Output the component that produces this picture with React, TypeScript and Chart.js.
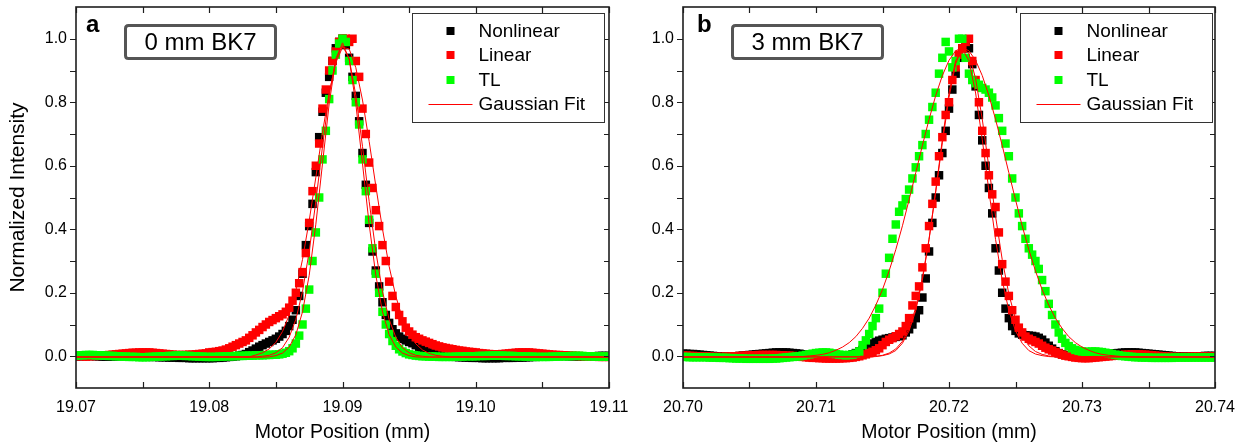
import React, { useEffect, useRef } from "react";
import { Chart, registerables } from "chart.js";
Chart.register(...registerables);

const FONT = '"Liberation Sans", Arial, Helvetica, sans-serif';

// ---------- axes ----------
const POINT_STEP = 0.00025; // sampling step of measured points (mm)
const FIT_STEP = 0.0005; // sampling step of fitted curves (mm)
const Y_MIN = -0.1;
const Y_MAX = 1.1;
const Y_TICKS = [0, 0.2, 0.4, 0.6, 0.8, 1.0];
const Y_MINOR = [0.1, 0.3, 0.5, 0.7, 0.9];

const X_START_A = 19.07;
const X_END_A = 19.11;
const X_TICKS_A = [19.07, 19.08, 19.09, 19.1, 19.11];
const X_MINOR_A = [19.075, 19.085, 19.095, 19.105];

const X_START_B = 20.7;
const X_END_B = 20.74;
const X_TICKS_B = [20.7, 20.71, 20.72, 20.73, 20.74];
const X_MINOR_B = [20.705, 20.715, 20.725, 20.735];

const SERIES_LABELS = ["Nonlinear", "Linear", "TL"];
const SERIES_COLORS = ["#000000", "#ff0000", "#00ff00"];
const FIT_LABEL = "Gaussian Fit";
const FIT_COLOR = "#ff0000";
const X_TITLE = "Motor Position (mm)";
const Y_TITLE = "Normalized Intensity";

// ---------- panel a (0 mm BK7), points every 0.00025 mm from 19.07 ----------
const BLACK_A = [
  0.000, 0.000, 0.001, 0.001, 0.001, 0.001, 0.000, 0.000, -0.001, -0.001,
  -0.001, -0.001, 0.000, 0.000, 0.001, 0.001, 0.001, 0.000, 0.000, 0.000,
  -0.001, -0.001, -0.002, -0.002, -0.002, -0.003, -0.003, -0.003, -0.004, -0.004,
  -0.004, -0.005, -0.005, -0.005, -0.006, -0.006, -0.006, -0.006, -0.006, -0.006,
  -0.006, -0.006, -0.005, -0.005, -0.004, -0.003, -0.002, -0.001, 0.000, 0.002,
  0.004, 0.007, 0.013, 0.018, 0.024, 0.030, 0.035, 0.040, 0.045, 0.050,
  0.055, 0.062, 0.070, 0.080, 0.095, 0.115, 0.145, 0.190, 0.260, 0.350,
  0.410, 0.480, 0.580, 0.690, 0.770, 0.830, 0.880, 0.930, 0.970, 0.990,
  1.000, 0.980, 0.940, 0.880, 0.820, 0.740, 0.640, 0.540, 0.420, 0.330,
  0.270, 0.220, 0.170, 0.130, 0.105, 0.085, 0.072, 0.062, 0.055, 0.050,
  0.045, 0.041, 0.035, 0.028, 0.022, 0.017, 0.012, 0.009, 0.006, 0.004,
  0.002, 0.001, 0.000, -0.001, -0.002, -0.003, -0.003, -0.004, -0.004, -0.005,
  -0.005, -0.005, -0.006, -0.006, -0.006, -0.006, -0.006, -0.006, -0.005, -0.005,
  -0.005, -0.005, -0.004, -0.004, -0.004, -0.003, -0.003, -0.002, -0.002, -0.001,
  -0.001, 0.000, 0.000, 0.000, 0.001, 0.001, 0.001, 0.001, 0.000, 0.000,
  0.000, -0.001, -0.001, -0.001, 0.000, 0.000, 0.000, 0.001, 0.001, 0.001,
  0.001,
];
const RED_A = [
  0.000, 0.001, 0.000, -0.001, 0.000, 0.001, 0.001, 0.002, 0.002, 0.003,
  0.004, 0.005, 0.006, 0.007, 0.008, 0.009, 0.010, 0.011, 0.011, 0.012,
  0.012, 0.012, 0.012, 0.011, 0.010, 0.009, 0.008, 0.007, 0.006, 0.005,
  0.004, 0.004, 0.004, 0.004, 0.005, 0.005, 0.006, 0.007, 0.008, 0.009,
  0.012, 0.013, 0.014, 0.016, 0.018, 0.021, 0.025, 0.030, 0.035, 0.040,
  0.045, 0.050, 0.058, 0.066, 0.075, 0.083, 0.092, 0.100, 0.108, 0.114,
  0.120, 0.126, 0.132, 0.140, 0.153, 0.175, 0.200, 0.230, 0.265, 0.325,
  0.420, 0.520, 0.600, 0.670, 0.780, 0.840, 0.900, 0.930, 0.960, 0.990,
  1.000, 1.000, 0.990, 1.000, 0.930, 0.880, 0.780, 0.700, 0.610, 0.530,
  0.460, 0.410, 0.350, 0.300, 0.235, 0.190, 0.155, 0.130, 0.110, 0.090,
  0.078, 0.068, 0.060, 0.055, 0.050, 0.046, 0.042, 0.038, 0.034, 0.031,
  0.028, 0.026, 0.024, 0.022, 0.020, 0.018, 0.017, 0.015, 0.014, 0.013,
  0.012, 0.010, 0.009, 0.008, 0.007, 0.006, 0.006, 0.006, 0.007, 0.008,
  0.009, 0.010, 0.011, 0.012, 0.012, 0.012, 0.012, 0.011, 0.010, 0.009,
  0.008, 0.007, 0.006, 0.005, 0.004, 0.004, 0.003, 0.003, 0.002, 0.002,
  0.001, 0.001, 0.000, 0.000, -0.001, -0.001, -0.001, -0.002, -0.002, -0.002,
  -0.002,
];
const GREEN_A = [
  0.002, 0.003, 0.003, 0.004, 0.004, 0.004, 0.003, 0.003, 0.002, 0.002,
  0.001, 0.001, 0.000, 0.000, -0.001, -0.001, -0.002, -0.002, -0.002, -0.003,
  -0.003, -0.003, -0.002, -0.002, -0.001, -0.001, 0.000, 0.000, 0.001, 0.001,
  0.002, 0.002, 0.002, 0.001, 0.001, 0.000, 0.000, -0.001, -0.001, -0.002,
  -0.002, -0.002, -0.002, -0.001, -0.001, 0.000, 0.000, 0.000, 0.001, 0.001,
  0.001, 0.002, 0.002, 0.002, 0.003, 0.003, 0.003, 0.004, 0.004, 0.005,
  0.005, 0.006, 0.008, 0.011, 0.016, 0.025, 0.040, 0.065, 0.100, 0.150,
  0.210, 0.300, 0.390, 0.500, 0.620, 0.710, 0.810, 0.900, 0.950, 0.985,
  1.000, 0.990, 0.930, 0.870, 0.800, 0.730, 0.620, 0.520, 0.430, 0.340,
  0.260, 0.200, 0.140, 0.100, 0.070, 0.048, 0.033, 0.022, 0.015, 0.010,
  0.006, 0.004, 0.002, 0.001, 0.000, 0.000, -0.001, -0.001, -0.001, -0.002,
  -0.002, -0.002, -0.002, -0.002, -0.001, -0.001, -0.001, 0.000, 0.000, 0.000,
  0.000, 0.001, 0.001, 0.001, 0.002, 0.002, 0.002, 0.002, 0.002, 0.001,
  0.001, 0.001, 0.000, 0.000, 0.000, -0.001, -0.001, -0.001, -0.002, -0.002,
  -0.002, -0.002, -0.002, -0.001, -0.001, -0.001, 0.000, 0.000, 0.000, 0.001,
  0.001, 0.001, 0.001, 0.000, 0.000, 0.000, -0.001, -0.001, -0.001, -0.001,
  -0.001,
];
// Gaussian fits, sampled every 0.0005 mm from 19.07
const FIT_BLACK_A = [
  -0.002, -0.002, -0.002, -0.002, -0.002, -0.002, -0.002, -0.002, -0.002, -0.002,
  -0.002, -0.002, -0.002, -0.002, -0.002, -0.002, -0.002, -0.002, -0.002, -0.002,
  -0.002, -0.002, -0.002, -0.002, -0.002, -0.002, -0.002, -0.002,
  0.000, 0.003, 0.011, 0.027, 0.060, 0.116, 0.204, 0.330, 0.488, 0.661, 0.822, 0.937,
  0.978, 0.937, 0.822, 0.661, 0.488, 0.330, 0.204, 0.116, 0.060, 0.027, 0.011, 0.003, 0.000,
  -0.002, -0.002, -0.002, -0.002, -0.002, -0.002, -0.002, -0.002, -0.002, -0.002,
  -0.002, -0.002, -0.002, -0.002, -0.002, -0.002, -0.002, -0.002, -0.002, -0.002,
  -0.002, -0.002, -0.002, -0.002, -0.002, -0.002, -0.002, -0.002,
];
const FIT_RED_A = [
  -0.002, -0.002, -0.002, -0.002, -0.002, -0.002, -0.002, -0.002, -0.002, -0.002,
  -0.002, -0.002, -0.002, -0.002, -0.002, -0.002, -0.002, -0.002, -0.002, -0.002,
  -0.002, -0.002, -0.002, -0.002, -0.002, -0.002, -0.002,
  0.004, 0.011, 0.023, 0.044, 0.078, 0.130, 0.206, 0.305, 0.427, 0.564, 0.705, 0.830, 0.925,
  0.973, 0.968, 0.909, 0.807, 0.677, 0.536, 0.401, 0.283, 0.189, 0.119, 0.070, 0.039, 0.020,
  0.009, 0.003, 0.000,
  -0.002, -0.002, -0.002, -0.002, -0.002, -0.002, -0.002, -0.002, -0.002, -0.002,
  -0.002, -0.002, -0.002, -0.002, -0.002, -0.002, -0.002, -0.002, -0.002, -0.002,
  -0.002, -0.002, -0.002, -0.002, -0.002,
];
const FIT_GREEN_A = [
  -0.003, -0.003, -0.003, -0.003, -0.003, -0.003, -0.003, -0.003, -0.003, -0.003,
  -0.003, -0.003, -0.003, -0.003, -0.003, -0.003, -0.003, -0.003, -0.003, -0.003,
  -0.003, -0.003, -0.003, -0.003, -0.003, -0.003, -0.003, -0.003, -0.003,
  -0.002, 0.002, 0.010, 0.029, 0.068, 0.140, 0.255, 0.416, 0.607, 0.795, 0.936,
  0.987, 0.936, 0.795, 0.607, 0.416, 0.255, 0.140, 0.068, 0.029, 0.010, 0.002, -0.002,
  -0.003, -0.003, -0.003, -0.003, -0.003, -0.003, -0.003, -0.003, -0.003, -0.003,
  -0.003, -0.003, -0.003, -0.003, -0.003, -0.003, -0.003, -0.003, -0.003, -0.003,
  -0.003, -0.003, -0.003, -0.003, -0.003, -0.003, -0.003, -0.003, -0.003,
];

// ---------- panel b (3 mm BK7), points every 0.00025 mm from 20.70 ----------
const BLACK_B = [
  0.008, 0.008, 0.007, 0.007, 0.006, 0.005, 0.004, 0.003, 0.002, 0.001,
  0.000, 0.000, -0.001, -0.001, -0.001, 0.000, 0.000, 0.001, 0.002, 0.003,
  0.004, 0.005, 0.006, 0.007, 0.008, 0.009, 0.010, 0.011, 0.012, 0.012,
  0.012, 0.012, 0.011, 0.010, 0.009, 0.008, 0.006, 0.005, 0.003, 0.002,
  0.001, 0.000, -0.001, -0.002, -0.002, -0.002, -0.002, -0.001, 0.000, 0.001,
  0.003, 0.006, 0.010, 0.015, 0.020, 0.027, 0.035, 0.040, 0.045, 0.049,
  0.052, 0.055, 0.057, 0.059, 0.061, 0.063, 0.066, 0.075, 0.085, 0.100,
  0.120, 0.145, 0.185, 0.245, 0.330, 0.420, 0.500, 0.570, 0.640, 0.710,
  0.780, 0.840, 0.890, 0.940, 0.970, 0.990, 0.970, 0.920, 0.850, 0.760,
  0.680, 0.600, 0.530, 0.450, 0.340, 0.270, 0.200, 0.150, 0.120, 0.095,
  0.080, 0.072, 0.068, 0.066, 0.065, 0.064, 0.062, 0.058, 0.052, 0.043,
  0.033, 0.024, 0.016, 0.010, 0.006, 0.004, 0.003, 0.002, 0.001, 0.000,
  0.000, 0.000, 0.001, 0.002, 0.003, 0.004, 0.005, 0.006, 0.007, 0.008,
  0.009, 0.010, 0.011, 0.012, 0.012, 0.012, 0.012, 0.011, 0.010, 0.009,
  0.008, 0.007, 0.006, 0.005, 0.004, 0.003, 0.002, 0.001, 0.000, 0.000,
  -0.001, -0.001, -0.001, -0.001, 0.000, 0.000, 0.000, 0.001, 0.001, 0.001,
  0.001,
];
const RED_B = [
  0.002, 0.002, 0.001, 0.001, 0.000, 0.000, -0.001, -0.001, -0.001, -0.002,
  -0.002, -0.002, -0.002, -0.001, -0.001, 0.000, 0.000, 0.001, 0.001, 0.002,
  0.002, 0.003, 0.003, 0.004, 0.004, 0.004, 0.004, 0.004, 0.004, 0.003,
  0.003, 0.002, 0.002, 0.001, 0.000, -0.001, -0.002, -0.003, -0.004, -0.005,
  -0.005, -0.006, -0.006, -0.007, -0.007, -0.007, -0.007, -0.007, -0.006, -0.006,
  -0.005, -0.004, -0.002, 0.000, 0.003, 0.006, 0.010, 0.014, 0.019, 0.025,
  0.035, 0.045, 0.052, 0.057, 0.063, 0.070, 0.078, 0.095, 0.120, 0.160,
  0.190, 0.220, 0.280, 0.340, 0.410, 0.480, 0.550, 0.630, 0.690, 0.760,
  0.800, 0.870, 0.910, 0.950, 0.970, 0.990, 1.000, 0.930, 0.870, 0.800,
  0.710, 0.640, 0.570, 0.510, 0.470, 0.390, 0.290, 0.235, 0.190, 0.145,
  0.115, 0.090, 0.075, 0.062, 0.055, 0.050, 0.045, 0.040, 0.033, 0.027,
  0.022, 0.018, 0.013, 0.009, 0.005, 0.002, 0.000, -0.002, -0.004, -0.005,
  -0.006, -0.006, -0.006, -0.005, -0.004, -0.003, -0.002, -0.001, 0.000, 0.001,
  0.002, 0.003, 0.004, 0.005, 0.005, 0.006, 0.006, 0.006, 0.005, 0.005,
  0.004, 0.003, 0.002, 0.001, 0.000, -0.001, -0.001, -0.002, -0.002, -0.002,
  -0.002, -0.002, -0.002, -0.001, -0.001, -0.001, -0.001, -0.001, -0.001, -0.001,
  -0.001,
];
const GREEN_B = [
  -0.002, -0.002, -0.003, -0.003, -0.003, -0.003, -0.003, -0.003, -0.004, -0.004,
  -0.004, -0.005, -0.005, -0.005, -0.006, -0.006, -0.007, -0.007, -0.007, -0.008,
  -0.008, -0.008, -0.008, -0.008, -0.008, -0.008, -0.008, -0.007, -0.007, -0.006,
  -0.005, -0.004, -0.003, -0.002, -0.001, 0.000, 0.002, 0.004, 0.006, 0.008,
  0.010, 0.011, 0.012, 0.012, 0.011, 0.009, 0.007, 0.005, 0.004, 0.003,
  0.004, 0.005, 0.008, 0.015, 0.035, 0.050, 0.070, 0.095, 0.120, 0.150,
  0.200, 0.260, 0.310, 0.370, 0.415, 0.455, 0.475, 0.495, 0.525, 0.560,
  0.595, 0.630, 0.665, 0.700, 0.745, 0.785, 0.830, 0.890, 0.940, 0.990,
  0.960, 0.910, 0.930, 1.000, 1.000, 0.940, 0.890, 0.870, 0.860, 0.855,
  0.845, 0.840, 0.830, 0.815, 0.790, 0.750, 0.710, 0.670, 0.630, 0.560,
  0.500, 0.450, 0.410, 0.370, 0.340, 0.320, 0.300, 0.275, 0.240, 0.205,
  0.165, 0.130, 0.100, 0.075, 0.055, 0.042, 0.032, 0.025, 0.020, 0.017,
  0.015, 0.014, 0.014, 0.015, 0.015, 0.014, 0.013, 0.011, 0.009, 0.007,
  0.005, 0.003, 0.001, 0.000, -0.001, -0.002, -0.003, -0.003, -0.004, -0.004,
  -0.004, -0.005, -0.005, -0.005, -0.005, -0.005, -0.005, -0.005, -0.004, -0.004,
  -0.004, -0.004, -0.004, -0.004, -0.004, -0.004, -0.004, -0.004, -0.004, -0.004,
  -0.004,
];
// Gaussian fits, sampled every 0.0005 mm from 20.70
const FIT_BLACK_B = [
  -0.002, -0.002, -0.002, -0.002, -0.002, -0.002, -0.002, -0.002, -0.002, -0.002,
  -0.002, -0.002, -0.002, -0.002, -0.002, -0.002, -0.002, -0.002, -0.002, -0.002,
  -0.002, -0.002, -0.002, -0.002, -0.002, -0.002, -0.002, -0.002, -0.002,
  -0.001, 0.002, 0.007, 0.018, 0.041, 0.080, 0.144, 0.240, 0.368, 0.521, 0.683, 0.829, 0.931,
  0.968, 0.931, 0.829, 0.683, 0.521, 0.368, 0.240, 0.144, 0.080, 0.041, 0.018, 0.007, 0.002, -0.001,
  -0.002, -0.002, -0.002, -0.002, -0.002, -0.002, -0.002, -0.002, -0.002, -0.002,
  -0.002, -0.002, -0.002, -0.002, -0.002, -0.002, -0.002, -0.002, -0.002, -0.002,
  -0.002, -0.002, -0.002, -0.002, -0.002,
];
const FIT_RED_B = [
  -0.002, -0.002, -0.002, -0.002, -0.002, -0.002, -0.002, -0.002, -0.002, -0.002,
  -0.002, -0.002, -0.002, -0.002, -0.002, -0.002, -0.002, -0.002, -0.002, -0.002,
  -0.002, -0.002, -0.002, -0.002, -0.002, -0.002, -0.002, -0.002, -0.002,
  0.000, 0.003, 0.010, 0.023, 0.047, 0.088, 0.153, 0.247, 0.369, 0.517, 0.672, 0.815, 0.921,
  0.971, 0.954, 0.874, 0.747, 0.595, 0.441, 0.305, 0.196, 0.117, 0.065, 0.033, 0.015, 0.006,
  0.001, -0.001,
  -0.002, -0.002, -0.002, -0.002, -0.002, -0.002, -0.002, -0.002, -0.002, -0.002,
  -0.002, -0.002, -0.002, -0.002, -0.002, -0.002, -0.002, -0.002, -0.002, -0.002,
  -0.002, -0.002, -0.002, -0.002,
];
const FIT_GREEN_B = [
  -0.003, -0.003, -0.003, -0.003, -0.003, -0.003, -0.003, -0.003, -0.003, -0.003,
  -0.003, -0.003, -0.003, -0.003, -0.003, -0.003,
  -0.003, -0.002, -0.001, 0.001, 0.003, 0.006, 0.011, 0.019, 0.029, 0.043, 0.062, 0.088, 0.120,
  0.161, 0.210, 0.269, 0.336, 0.411, 0.493, 0.578, 0.664, 0.746, 0.821, 0.884, 0.932, 0.962,
  0.972,
  0.962, 0.932, 0.884, 0.821, 0.746, 0.664, 0.578, 0.493, 0.411, 0.336, 0.269, 0.210, 0.161,
  0.120, 0.088, 0.062, 0.043, 0.029, 0.019, 0.011, 0.006, 0.003, 0.001, -0.001, -0.002, -0.003,
  -0.003, -0.003, -0.003, -0.003, -0.003, -0.003, -0.003, -0.003, -0.003, -0.003,
  -0.003, -0.003,
];

type PanelDef = {
  letter: string;
  sample: string;
  xStart: number;
  xEnd: number;
  xTicks: number[];
  xMinor: number[];
  series: number[][];
  fits: number[][];
  canvasLeft: number;
  canvasWidth: number;
  axisWidth: number;
  padRight: number;
  showYTitle: boolean;
  letterDx: number;
  legendRightGap: number;
};

const PANELS: PanelDef[] = [
  {
    letter: "a",
    sample: "0 mm BK7",
    xStart: X_START_A,
    xEnd: X_END_A,
    xTicks: X_TICKS_A,
    xMinor: X_MINOR_A,
    series: [BLACK_A, RED_A, GREEN_A],
    fits: [FIT_BLACK_A, FIT_RED_A, FIT_GREEN_A],
    canvasLeft: 0,
    canvasWidth: 650,
    axisWidth: 76,
    padRight: 41,
    showYTitle: true,
    letterDx: 10,
    legendRightGap: 5,
  },
  {
    letter: "b",
    sample: "3 mm BK7",
    xStart: X_START_B,
    xEnd: X_END_B,
    xTicks: X_TICKS_B,
    xMinor: X_MINOR_B,
    series: [BLACK_B, RED_B, GREEN_B],
    fits: [FIT_BLACK_B, FIT_RED_B, FIT_GREEN_B],
    canvasLeft: 619,
    canvasWidth: 619,
    axisWidth: 64,
    padRight: 23,
    showYTitle: false,
    letterDx: 14,
    legendRightGap: 3,
  },
];

function decorPlugin(p: PanelDef) {
  return {
    id: "decor_" + p.letter,
    afterDatasetsDraw(chart: any) {
      const { ctx, chartArea } = chart;
      const { left, right, top, bottom } = chartArea;
      const xs = chart.scales.x;
      const ys = chart.scales.y;
      ctx.save();
      // ticks
      ctx.strokeStyle = "#1e1e1e";
      ctx.lineWidth = 1.2;
      ctx.beginPath();
      const T = 6;
      [...p.xTicks, ...p.xMinor].forEach((v) => {
        const px = Math.round(xs.getPixelForValue(v)) + 0.5;
        ctx.moveTo(px, bottom);
        ctx.lineTo(px, bottom - T);
        ctx.moveTo(px, top);
        ctx.lineTo(px, top + T);
      });
      [...Y_TICKS, ...Y_MINOR].forEach((v) => {
        const py = Math.round(ys.getPixelForValue(v)) + 0.5;
        ctx.moveTo(left - T, py);
        ctx.lineTo(left, py);
        ctx.moveTo(right, py);
        ctx.lineTo(right - 5, py);
      });
      ctx.stroke();
      // frame
      ctx.lineWidth = 1.6;
      ctx.strokeRect(left, top, right - left, bottom - top);

      // legend
      const bw = 192;
      const bh = 109;
      const bx = Math.round(right - p.legendRightGap - bw) + 0.5;
      const by = 13.5;
      ctx.fillStyle = "#ffffff";
      ctx.fillRect(bx, by, bw, bh);
      ctx.strokeStyle = "#333333";
      ctx.lineWidth = 1;
      ctx.strokeRect(bx, by, bw, bh);
      const rows = [31, 55, 80, 104];
      ctx.font = `19px ${FONT}`;
      ctx.textBaseline = "middle";
      ctx.textAlign = "left";
      SERIES_LABELS.forEach((lab, i) => {
        ctx.fillStyle = SERIES_COLORS[i];
        ctx.fillRect(bx + 34, rows[i] - 4, 8, 8);
        ctx.fillStyle = "#000";
        ctx.fillText(lab, bx + 66, rows[i] + 1);
      });
      ctx.strokeStyle = FIT_COLOR;
      ctx.lineWidth = 1;
      ctx.beginPath();
      ctx.moveTo(bx + 16, rows[3] + 0.5);
      ctx.lineTo(bx + 60, rows[3] + 0.5);
      ctx.stroke();
      ctx.fillStyle = "#000";
      ctx.fillText(FIT_LABEL, bx + 66, rows[3] + 1);

      // sample annotation box
      const ax = left + 49.5;
      const ay = 25.5;
      const aw = 150;
      const ah = 33;
      ctx.beginPath();
      const r = 3;
      ctx.moveTo(ax + r, ay);
      ctx.lineTo(ax + aw - r, ay);
      ctx.quadraticCurveTo(ax + aw, ay, ax + aw, ay + r);
      ctx.lineTo(ax + aw, ay + ah - r);
      ctx.quadraticCurveTo(ax + aw, ay + ah, ax + aw - r, ay + ah);
      ctx.lineTo(ax + r, ay + ah);
      ctx.quadraticCurveTo(ax, ay + ah, ax, ay + ah - r);
      ctx.lineTo(ax, ay + r);
      ctx.quadraticCurveTo(ax, ay, ax + r, ay);
      ctx.closePath();
      ctx.fillStyle = "#fff";
      ctx.fill();
      ctx.strokeStyle = "#555";
      ctx.lineWidth = 3;
      ctx.stroke();
      ctx.fillStyle = "#000";
      ctx.font = `24px ${FONT}`;
      ctx.textAlign = "center";
      ctx.textBaseline = "middle";
      ctx.fillText(p.sample, ax + aw / 2, ay + ah / 2 + 1);

      // panel letter
      ctx.font = `bold 24px ${FONT}`;
      ctx.textAlign = "left";
      ctx.textBaseline = "alphabetic";
      ctx.fillText(p.letter, left + p.letterDx, 32);

      // axis titles
      ctx.font = `19.5px ${FONT}`;
      ctx.textAlign = "center";
      ctx.textBaseline = "middle";
      ctx.fillText(X_TITLE, (left + right) / 2, 433);
      if (p.showYTitle) {
        ctx.save();
        ctx.font = `21px ${FONT}`;
        ctx.translate(18, (top + bottom) / 2);
        ctx.rotate(-Math.PI / 2);
        ctx.fillText(Y_TITLE, 0, 0);
        ctx.restore();
      }
      ctx.restore();
    },
  };
}

function buildConfig(p: PanelDef): any {
  const fitSets = p.fits.map((arr) => ({
    label: FIT_LABEL,
    data: arr.map((y, i) => ({ x: p.xStart + i * FIT_STEP, y })),
    showLine: true,
    borderColor: FIT_COLOR,
    borderWidth: 1,
    pointRadius: 0,
    fill: false,
    tension: 0,
    clip: 0,
  }));
  // TL drawn on top of Linear, which is drawn on top of Nonlinear
  const order = [2, 1, 0];
  const pointSets = order.map((si) => ({
    label: SERIES_LABELS[si],
    data: p.series[si].map((y, i) => ({ x: p.xStart + i * POINT_STEP, y })),
    showLine: false,
    pointStyle: "rect",
    pointRadius: 6,
    pointBackgroundColor: SERIES_COLORS[si],
    backgroundColor: SERIES_COLORS[si],
    pointBorderWidth: 0,
    borderWidth: 0,
    clip: 0,
  }));
  const tickFont = { family: FONT, size: 16 };
  return {
    type: "scatter",
    data: { datasets: [...fitSets, ...pointSets] },
    options: {
      responsive: false,
      animation: false,
      devicePixelRatio: 1,
      events: [],
      layout: { padding: { left: 0, right: p.padRight, top: 7, bottom: 0 } },
      plugins: { legend: { display: false }, tooltip: { enabled: false } },
      scales: {
        x: {
          type: "linear",
          min: p.xStart,
          max: p.xEnd,
          grid: { display: false, drawTicks: false },
          border: { display: false },
          ticks: {
            autoSkip: false,
            maxRotation: 0,
            padding: 10,
            color: "#000",
            font: tickFont,
            callback: (v: any) => Number(v).toFixed(2),
          },
          afterBuildTicks: (s: any) => {
            s.ticks = p.xTicks.map((v) => ({ value: v }));
          },
          afterFit: (s: any) => {
            s.height = 56;
            s.paddingLeft = 0;
            s.paddingRight = 0;
          },
        },
        y: {
          type: "linear",
          min: Y_MIN,
          max: Y_MAX,
          grid: { display: false, drawTicks: false },
          border: { display: false },
          ticks: {
            padding: 9,
            color: "#000",
            font: tickFont,
            callback: (v: any) => Number(v).toFixed(1),
          },
          afterBuildTicks: (s: any) => {
            s.ticks = Y_TICKS.map((v) => ({ value: v }));
          },
          afterFit: (s: any) => {
            s.width = p.axisWidth;
            s.paddingTop = 0;
            s.paddingBottom = 0;
          },
        },
      },
    },
    plugins: [decorPlugin(p)],
  };
}

function Panel({ p }: { p: PanelDef }) {
  const ref = useRef<HTMLCanvasElement>(null);
  useEffect(() => {
    const chart = new Chart(ref.current as HTMLCanvasElement, buildConfig(p));
    return () => chart.destroy();
  }, [p]);
  return (
    <canvas
      ref={ref}
      width={p.canvasWidth}
      height={444}
      style={{
        position: "absolute",
        left: p.canvasLeft,
        top: 0,
        width: p.canvasWidth,
        height: 444,
      }}
    />
  );
}

export default function App() {
  return (
    <div
      style={{
        position: "fixed",
        left: 0,
        top: 0,
        width: 1238,
        height: 444,
        background: "#ffffff",
        overflow: "hidden",
      }}
    >
      {PANELS.map((p) => (
        <Panel key={p.letter} p={p} />
      ))}
    </div>
  );
}
